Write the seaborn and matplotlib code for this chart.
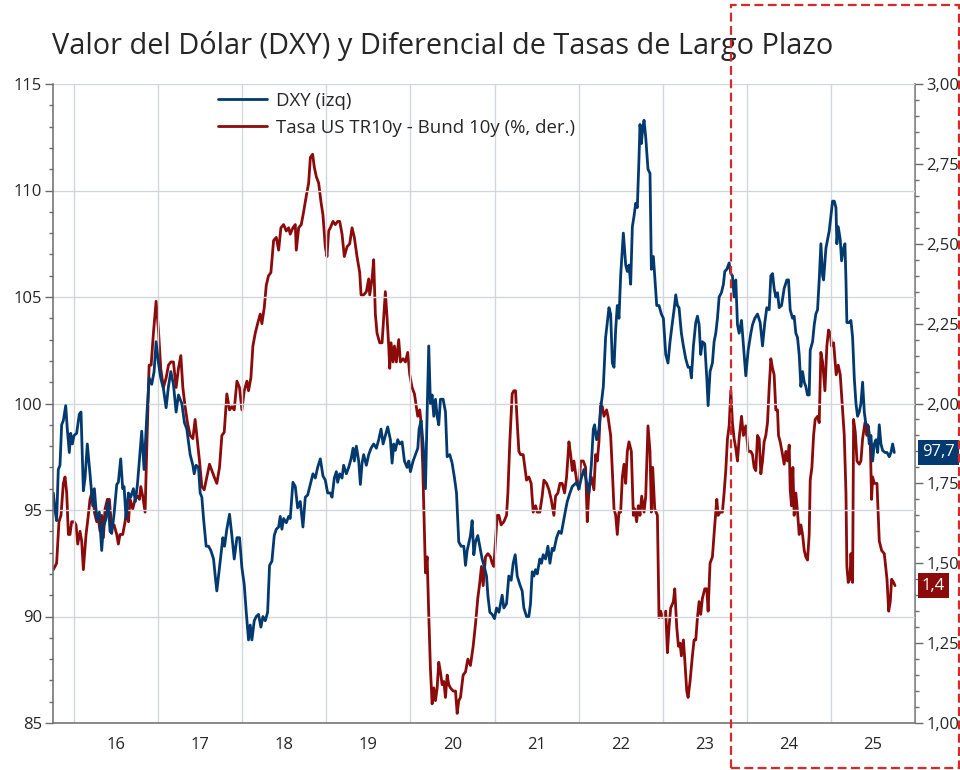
import matplotlib
matplotlib.use('Agg')
import matplotlib.pyplot as plt
import matplotlib.transforms as mtransforms
from matplotlib.patches import Rectangle
from matplotlib.ticker import FuncFormatter, MultipleLocator
import seaborn as sns
import pandas as pd

# DXY index (left axis), decimal year / value
dxy_year = [
    2015.754, 2015.774, 2015.793, 2015.813, 2015.833, 2015.853, 2015.873, 2015.901, 2015.920, 2015.944,
    2015.960, 2015.980, 2016.000, 2016.031, 2016.063, 2016.083, 2016.111, 2016.131, 2016.158, 2016.190,
    2016.222, 2016.242, 2016.270, 2016.301, 2016.329, 2016.349, 2016.381, 2016.408, 2016.428, 2016.448,
    2016.476, 2016.508, 2016.527, 2016.555, 2016.579, 2016.595, 2016.619, 2016.647, 2016.674, 2016.706,
    2016.730, 2016.754, 2016.785, 2016.805, 2016.833, 2016.865, 2016.893, 2016.924, 2016.952, 2016.976,
    2017.004, 2017.031, 2017.063, 2017.095, 2017.123, 2017.151, 2017.182, 2017.214, 2017.242, 2017.282,
    2017.313, 2017.341,
    2017.381, 2017.413, 2017.429, 2017.452, 2017.480, 2017.500, 2017.520, 2017.540, 2017.571, 2017.599,
    2017.627, 2017.659, 2017.679, 2017.698, 2017.718, 2017.746, 2017.770, 2017.790, 2017.817, 2017.849,
    2017.877, 2017.905, 2017.937, 2017.968, 2017.996, 2018.024, 2018.048, 2018.075, 2018.095, 2018.115,
    2018.143, 2018.167, 2018.194, 2018.222, 2018.246, 2018.274, 2018.302, 2018.325, 2018.353, 2018.381,
    2018.405, 2018.433, 2018.452, 2018.472, 2018.492, 2018.524, 2018.552, 2018.571, 2018.603, 2018.631,
    2018.659, 2018.690, 2018.722, 2018.750, 2018.778, 2018.810, 2018.841, 2018.869, 2018.897, 2018.929,
    2018.960, 2018.988, 2019.016,
    2019.048, 2019.068, 2019.095, 2019.119, 2019.135, 2019.159, 2019.187, 2019.206, 2019.238, 2019.266,
    2019.294, 2019.318, 2019.333, 2019.357, 2019.385, 2019.405, 2019.425, 2019.444, 2019.476, 2019.504,
    2019.532, 2019.563, 2019.595, 2019.623, 2019.651, 2019.675, 2019.702, 2019.730, 2019.762, 2019.782,
    2019.802, 2019.821, 2019.849, 2019.873, 2019.901, 2019.929, 2019.960, 2019.980, 2020.000, 2020.032,
    2020.060, 2020.088, 2020.103, 2020.127, 2020.151, 2020.179, 2020.199, 2020.218, 2020.238, 2020.258,
    2020.278, 2020.298, 2020.318, 2020.337, 2020.357, 2020.389, 2020.417, 2020.437, 2020.468, 2020.496,
    2020.524, 2020.548, 2020.575, 2020.603, 2020.635, 2020.655, 2020.675,
    2020.714, 2020.734, 2020.754, 2020.774, 2020.801, 2020.825, 2020.853, 2020.881, 2020.905, 2020.921,
    2020.944, 2020.972, 2021.000, 2021.024, 2021.052, 2021.071, 2021.091, 2021.111, 2021.143, 2021.170,
    2021.198, 2021.222, 2021.246, 2021.270, 2021.301, 2021.329, 2021.349, 2021.381, 2021.408, 2021.428,
    2021.448, 2021.468, 2021.488, 2021.508, 2021.539, 2021.559, 2021.579, 2021.607, 2021.635, 2021.659,
    2021.686, 2021.706, 2021.738, 2021.766, 2021.794, 2021.817, 2021.845, 2021.865, 2021.897, 2021.924,
    2021.952, 2021.976, 2022.004, 2022.032, 2022.063, 2022.095, 2022.123, 2022.151, 2022.175, 2022.190,
    2022.214, 2022.242, 2022.270, 2022.294, 2022.321, 2022.341, 2022.361,
    2022.381, 2022.401, 2022.421, 2022.441, 2022.460, 2022.480, 2022.500, 2022.532, 2022.560, 2022.579,
    2022.599, 2022.619, 2022.639, 2022.659, 2022.679, 2022.698, 2022.718, 2022.730, 2022.746, 2022.762,
    2022.778, 2022.798, 2022.825, 2022.849, 2022.865, 2022.889, 2022.905, 2022.929, 2022.956, 2022.984,
    2023.008, 2023.036, 2023.063, 2023.087, 2023.115, 2023.135, 2023.155, 2023.175, 2023.194, 2023.222,
    2023.246, 2023.274, 2023.302, 2023.325, 2023.341, 2023.365, 2023.393, 2023.413, 2023.433, 2023.452,
    2023.472, 2023.500, 2023.524, 2023.540, 2023.563, 2023.591, 2023.611, 2023.631, 2023.651, 2023.671,
    2023.698, 2023.722, 2023.738, 2023.762, 2023.790, 2023.810, 2023.829, 2023.849, 2023.869, 2023.889,
    2023.909, 2023.937, 2023.960, 2023.988, 2024.016,
    2024.048, 2024.068, 2024.095, 2024.127, 2024.159, 2024.187, 2024.214, 2024.238, 2024.266, 2024.286,
    2024.306, 2024.325, 2024.345, 2024.365, 2024.385, 2024.413, 2024.444, 2024.476, 2024.496, 2024.516,
    2024.544, 2024.563, 2024.583, 2024.603, 2024.623, 2024.643, 2024.663, 2024.683, 2024.702, 2024.722,
    2024.742, 2024.754, 2024.782, 2024.802, 2024.821, 2024.841, 2024.861, 2024.881, 2024.901, 2024.913,
    2024.941, 2024.960, 2024.980, 2025.000, 2025.020, 2025.040, 2025.060, 2025.071, 2025.087, 2025.111,
    2025.127, 2025.151, 2025.167, 2025.179, 2025.190, 2025.218, 2025.238, 2025.258, 2025.278, 2025.298,
    2025.317, 2025.337, 2025.357, 2025.377, 2025.397, 2025.417, 2025.437, 2025.456, 2025.476, 2025.496,
    2025.516, 2025.536, 2025.556, 2025.575, 2025.595, 2025.615, 2025.643, 2025.667, 2025.694, 2025.714,
    2025.734, 2025.754,
]
dxy_value = [
    95.8, 95.0, 94.5, 96.9, 97.1, 99.0, 99.2, 99.9, 98.8, 97.7,
    98.6, 98.1, 98.5, 98.6, 99.5, 99.6, 95.9, 96.5, 98.1, 96.7,
    95.2, 96.0, 94.6, 94.9, 93.1, 94.2, 94.6, 95.4, 94.0, 93.9,
    94.8, 96.2, 96.3, 97.4, 96.0, 96.1, 94.6, 95.8, 95.6, 96.0,
    95.4, 96.2, 97.7, 98.7, 96.9, 99.4, 101.2, 100.9, 101.5, 102.9,
    101.9, 101.2, 100.7, 99.8, 100.8, 101.5, 100.9, 99.6, 100.4, 100.0,
    99.1, 98.8,
    97.6, 97.1, 96.7, 97.1, 97.0, 95.8, 95.6, 94.6, 93.3, 93.3,
    93.1, 92.7, 91.9, 91.2, 91.9, 92.9, 93.7, 93.3, 94.1, 94.8,
    93.8, 92.7, 93.7, 93.7, 92.3, 91.5, 90.2, 88.9, 89.6, 88.9,
    89.8, 90.0, 90.1, 89.5, 90.0, 89.8, 90.2, 92.4, 92.6, 93.8,
    94.1, 94.2, 94.7, 94.1, 94.6, 94.4, 94.7, 94.6, 96.3, 96.1,
    95.1, 95.4, 94.2, 95.6, 95.7, 96.2, 96.7, 96.5, 97.0, 97.4,
    96.6, 96.4, 95.8,
    95.8, 95.6, 96.5, 96.8, 96.3, 96.7, 96.5, 97.1, 96.7, 97.0,
    97.4, 97.9, 97.3, 98.0, 97.3, 96.2, 97.2, 97.6, 97.1, 97.6,
    97.9, 98.1, 97.9, 98.3, 98.8, 98.1, 98.5, 98.9, 98.3, 97.2,
    98.1, 97.8, 98.3, 98.1, 98.2, 97.3, 97.0, 97.3, 96.8, 97.3,
    97.6, 97.9, 98.8, 99.2, 98.1, 96.0, 99.6, 102.7, 100.0, 100.4,
    99.4, 100.2, 99.4, 99.0, 100.2, 100.2, 99.6, 97.5, 97.6, 97.2,
    96.5, 95.8, 93.5, 93.3, 93.3, 92.4, 93.1,
    93.8, 94.5, 92.9, 93.5, 93.8, 93.3, 92.7, 92.3, 91.9, 91.0,
    90.2, 90.1, 89.9, 90.4, 90.2, 90.6, 91.0, 90.4, 90.6, 91.9,
    91.7, 92.5, 92.9, 91.9, 91.5, 91.2, 90.4, 90.0, 90.0, 90.6,
    92.1, 91.9, 92.2, 92.0, 92.7, 92.5, 92.9, 92.7, 93.3, 92.5,
    93.2, 93.1, 93.7, 94.0, 93.9, 94.4, 95.0, 95.4, 95.8, 96.1,
    96.2, 96.3, 96.0, 96.5, 96.9, 96.3, 95.8, 97.1, 98.8, 99.0,
    98.3, 98.8, 100.0, 100.8, 103.1, 103.8, 104.5,
    104.2, 101.9, 101.7, 103.5, 104.6, 104.0, 106.0, 108.0, 106.5, 106.2,
    106.5, 105.6, 108.3, 108.8, 109.4, 109.2, 111.5, 113.1, 112.2, 112.9,
    113.3, 112.5, 111.0, 110.8, 106.3, 106.9, 106.0, 104.6, 104.6, 104.2,
    104.0, 102.3, 101.9, 102.9, 103.8, 104.4, 105.1, 104.6, 104.5, 103.3,
    102.7, 102.1, 101.7, 101.7, 101.2, 102.7, 103.8, 104.1, 103.7, 102.3,
    102.9, 102.8, 101.2, 99.9, 101.5, 101.9, 102.9, 103.3, 104.0, 105.0,
    105.2, 105.6, 106.2, 106.3, 106.6, 106.1, 106.0, 105.0, 105.8, 103.7,
    103.3, 103.9, 102.7, 101.3, 102.5,
    103.3, 103.7, 104.0, 104.2, 103.8, 102.7, 103.8, 104.5, 104.4, 106.0,
    106.1, 105.4, 105.0, 105.2, 104.5, 104.6, 105.4, 105.8, 105.8, 104.4,
    104.0, 104.1, 103.3, 103.1, 102.3, 100.8, 101.5, 101.0, 100.8, 100.4,
    100.4, 102.5, 102.9, 103.7, 104.2, 104.4, 105.8, 107.5, 106.0, 105.8,
    107.3, 107.7, 108.1, 108.8, 109.5, 109.5, 109.2, 107.5, 108.3, 107.7,
    106.7, 107.3, 107.5, 105.8, 103.8, 103.8, 103.9, 103.1, 101.2, 100.0,
    99.4, 99.6, 100.0, 101.0, 99.6, 99.0, 99.0, 98.1, 98.5, 97.3,
    98.1, 98.3, 97.7, 99.0, 98.1, 97.8, 97.7, 97.7, 97.5, 97.7,
    98.1, 97.7,
]

# US Treasury 10y minus Bund 10y spread, % (right axis)
spread_year = [
    2015.754, 2015.774, 2015.793, 2015.821, 2015.845, 2015.873, 2015.893, 2015.913, 2015.933, 2015.952,
    2015.972, 2016.000, 2016.024, 2016.044, 2016.071, 2016.091, 2016.111, 2016.143, 2016.170, 2016.190,
    2016.222, 2016.242, 2016.270, 2016.290, 2016.309, 2016.329, 2016.349, 2016.369, 2016.397, 2016.420,
    2016.448, 2016.476, 2016.508, 2016.527, 2016.547, 2016.579, 2016.607, 2016.627, 2016.647, 2016.667,
    2016.698, 2016.726, 2016.754, 2016.778, 2016.794, 2016.817, 2016.845, 2016.865, 2016.893, 2016.917,
    2016.944, 2016.976, 2017.004, 2017.031, 2017.063, 2017.095, 2017.123, 2017.151, 2017.182, 2017.214,
    2017.242, 2017.270, 2017.294, 2017.321, 2017.349,
    2017.381, 2017.413, 2017.440, 2017.468, 2017.492, 2017.520, 2017.548, 2017.579, 2017.611, 2017.639,
    2017.667, 2017.698, 2017.730, 2017.758, 2017.786, 2017.817, 2017.849, 2017.877, 2017.905, 2017.937,
    2017.968, 2017.996, 2018.024, 2018.056, 2018.075, 2018.103, 2018.127, 2018.155, 2018.183, 2018.214,
    2018.234, 2018.262, 2018.286, 2018.313, 2018.341, 2018.373, 2018.405, 2018.433, 2018.460, 2018.492,
    2018.524, 2018.552, 2018.571, 2018.603, 2018.631, 2018.643, 2018.671, 2018.702, 2018.730, 2018.762,
    2018.790, 2018.810, 2018.837, 2018.857, 2018.881, 2018.909, 2018.937, 2018.960, 2018.988, 2019.008,
    2019.028,
    2019.048, 2019.079, 2019.107, 2019.135, 2019.159, 2019.187, 2019.214, 2019.246, 2019.278, 2019.306,
    2019.333, 2019.365, 2019.397, 2019.413, 2019.444, 2019.476, 2019.504, 2019.516, 2019.544, 2019.563,
    2019.583, 2019.603, 2019.635, 2019.663, 2019.683, 2019.702, 2019.722, 2019.742, 2019.754, 2019.770,
    2019.794, 2019.810, 2019.833, 2019.861, 2019.881, 2019.913, 2019.941, 2019.968, 2019.992, 2020.020,
    2020.048, 2020.071, 2020.087, 2020.111, 2020.127, 2020.147, 2020.167, 2020.179, 2020.199, 2020.218,
    2020.238, 2020.258, 2020.278, 2020.298, 2020.318, 2020.337, 2020.357, 2020.377, 2020.397, 2020.417,
    2020.437, 2020.456, 2020.476, 2020.508, 2020.536, 2020.556, 2020.575, 2020.595, 2020.627, 2020.655,
    2020.683,
    2020.714, 2020.746, 2020.774, 2020.801, 2020.825, 2020.845, 2020.865, 2020.893, 2020.921, 2020.952,
    2020.972, 2020.992, 2021.012, 2021.032, 2021.052, 2021.079, 2021.111, 2021.143, 2021.159, 2021.182,
    2021.210, 2021.230, 2021.250, 2021.270, 2021.290, 2021.310, 2021.341, 2021.361, 2021.381, 2021.408,
    2021.436, 2021.460, 2021.488, 2021.508, 2021.539, 2021.567, 2021.587, 2021.619, 2021.647, 2021.674,
    2021.706, 2021.726, 2021.754, 2021.778, 2021.805, 2021.833, 2021.857, 2021.885, 2021.905, 2021.925,
    2021.944, 2021.976, 2022.004, 2022.024, 2022.056, 2022.083, 2022.103, 2022.123, 2022.151, 2022.182,
    2022.202, 2022.222, 2022.242, 2022.262, 2022.282, 2022.302, 2022.333, 2022.349,
    2022.381, 2022.401, 2022.421, 2022.441, 2022.460, 2022.480, 2022.500, 2022.520, 2022.540, 2022.560,
    2022.579, 2022.599, 2022.627, 2022.651, 2022.667, 2022.690, 2022.710, 2022.730, 2022.750, 2022.778,
    2022.798, 2022.825, 2022.849, 2022.865, 2022.881, 2022.905, 2022.937, 2022.956, 2022.976, 2022.996,
    2023.016, 2023.036, 2023.056, 2023.075, 2023.095, 2023.127, 2023.143, 2023.167, 2023.187, 2023.206,
    2023.222, 2023.246, 2023.262, 2023.286, 2023.302, 2023.325, 2023.353, 2023.373, 2023.393, 2023.413,
    2023.433, 2023.452, 2023.472, 2023.500, 2023.524, 2023.540, 2023.563, 2023.591, 2023.619, 2023.643,
    2023.659, 2023.683, 2023.710, 2023.730, 2023.750, 2023.770, 2023.790, 2023.810, 2023.829, 2023.849,
    2023.869, 2023.889, 2023.909, 2023.937, 2023.960, 2023.988, 2024.016,
    2024.048, 2024.068, 2024.087, 2024.107, 2024.127, 2024.147, 2024.167, 2024.187, 2024.206, 2024.226,
    2024.246, 2024.266, 2024.286, 2024.306, 2024.325, 2024.345, 2024.365, 2024.377, 2024.397, 2024.425,
    2024.444, 2024.464, 2024.484, 2024.504, 2024.516, 2024.532, 2024.548, 2024.563, 2024.583, 2024.603,
    2024.623, 2024.643, 2024.663, 2024.683, 2024.702, 2024.722, 2024.742, 2024.754, 2024.774, 2024.794,
    2024.813, 2024.841, 2024.861, 2024.881, 2024.901, 2024.929, 2024.952, 2024.972, 2024.992, 2025.008,
    2025.032, 2025.048, 2025.063, 2025.087, 2025.111, 2025.139, 2025.159, 2025.179, 2025.190, 2025.206,
    2025.226, 2025.238, 2025.258, 2025.270, 2025.290, 2025.310, 2025.337, 2025.357, 2025.377, 2025.405,
    2025.429, 2025.444, 2025.468, 2025.484, 2025.496, 2025.516, 2025.548, 2025.575, 2025.603, 2025.635,
    2025.667, 2025.687, 2025.706, 2025.722, 2025.746, 2025.762,
]
spread_value = [
    1.48, 1.49, 1.50, 1.63, 1.65, 1.75, 1.77, 1.72, 1.59, 1.59,
    1.63, 1.63, 1.62, 1.56, 1.60, 1.57, 1.48, 1.59, 1.65, 1.70,
    1.73, 1.66, 1.63, 1.64, 1.60, 1.65, 1.58, 1.67, 1.70, 1.70,
    1.61, 1.62, 1.59, 1.56, 1.59, 1.59, 1.63, 1.67, 1.63, 1.70,
    1.67, 1.70, 1.71, 1.70, 1.74, 1.71, 1.66, 1.86, 2.12, 2.12,
    2.22, 2.32, 2.23, 2.11, 2.05, 2.08, 2.12, 2.13, 2.13, 2.05,
    2.11, 2.15, 2.05, 1.99, 1.94,
    1.90, 1.89, 1.95, 1.88, 1.82, 1.74, 1.73, 1.77, 1.81, 1.79,
    1.77, 1.75, 1.80, 1.90, 1.91, 2.03, 1.98, 1.99, 1.98, 2.07,
    2.05, 1.98, 2.04, 2.07, 2.04, 2.08, 2.18, 2.22, 2.25, 2.28,
    2.25, 2.30, 2.37, 2.40, 2.41, 2.51, 2.52, 2.48, 2.55, 2.56,
    2.54, 2.55, 2.53, 2.55, 2.56, 2.48, 2.55, 2.56, 2.60, 2.65,
    2.69, 2.77, 2.78, 2.74, 2.71, 2.69, 2.63, 2.59, 2.49, 2.46,
    2.54,
    2.55, 2.57, 2.56, 2.57, 2.57, 2.53, 2.46, 2.49, 2.50, 2.55,
    2.52, 2.46, 2.41, 2.34, 2.34, 2.35, 2.39, 2.34, 2.39, 2.45,
    2.28, 2.22, 2.19, 2.19, 2.27, 2.35, 2.27, 2.18, 2.11, 2.19,
    2.13, 2.18, 2.13, 2.20, 2.13, 2.14, 2.13, 2.16, 2.09, 2.05,
    2.03, 1.99, 1.96, 1.98, 1.94, 1.80, 1.59, 1.47, 1.52, 1.34,
    1.17, 1.06, 1.11, 1.07, 1.11, 1.19, 1.16, 1.12, 1.13, 1.08,
    1.15, 1.12, 1.11, 1.10, 1.10, 1.03, 1.07, 1.08, 1.15, 1.16,
    1.20,
    1.18, 1.24, 1.31, 1.39, 1.44, 1.49, 1.43, 1.52, 1.53, 1.52,
    1.50, 1.49, 1.57, 1.65, 1.65, 1.62, 1.63, 1.65, 1.72, 1.88,
    2.03, 2.04, 2.04, 1.94, 1.85, 1.84, 1.84, 1.80, 1.76, 1.77,
    1.75, 1.66, 1.68, 1.66, 1.66, 1.71, 1.76, 1.75, 1.73, 1.70,
    1.65, 1.71, 1.72, 1.75, 1.75, 1.72, 1.77, 1.88, 1.84, 1.79,
    1.82, 1.76, 1.73, 1.82, 1.82, 1.80, 1.63, 1.73, 1.77, 1.73,
    1.84, 1.82, 1.88, 2.00, 1.99, 1.96, 1.98, 1.96,
    1.90, 1.79, 1.67, 1.65, 1.59, 1.66, 1.66, 1.77, 1.81, 1.75,
    1.85, 1.88, 1.85, 1.65, 1.67, 1.63, 1.68, 1.65, 1.71, 1.66,
    1.71, 1.93, 1.85, 1.66, 1.80, 1.67, 1.65, 1.33, 1.35, 1.33,
    1.34, 1.35, 1.22, 1.30, 1.36, 1.38, 1.42, 1.30, 1.24, 1.25,
    1.21, 1.26, 1.20, 1.10, 1.08, 1.13, 1.21, 1.26, 1.26, 1.33,
    1.38, 1.34, 1.39, 1.42, 1.42, 1.35, 1.50, 1.52, 1.62, 1.70,
    1.65, 1.66, 1.66, 1.72, 1.79, 1.89, 1.93, 2.04, 1.94, 1.89,
    1.86, 1.82, 1.89, 1.96, 1.90, 1.93, 1.85,
    1.85, 1.84, 1.80, 1.79, 1.90, 1.89, 1.78, 1.82, 1.88, 1.90,
    1.94, 2.05, 2.14, 2.11, 2.09, 1.98, 1.98, 1.90, 1.88, 1.84,
    1.81, 1.85, 1.82, 1.87, 1.73, 1.68, 1.80, 1.65, 1.72, 1.66,
    1.59, 1.62, 1.59, 1.54, 1.52, 1.51, 1.59, 1.76, 1.80, 1.90,
    1.95, 1.96, 1.94, 2.16, 2.13, 2.04, 2.18, 2.23, 2.22, 2.18,
    2.19, 2.14, 2.09, 2.12, 2.09, 1.98, 1.90, 1.72, 1.49, 1.44,
    1.45, 1.53, 1.44, 1.95, 1.91, 1.82, 1.81, 1.82, 1.89, 1.94,
    1.90, 1.93, 1.88, 1.70, 1.77, 1.75, 1.75, 1.57, 1.54, 1.53,
    1.45, 1.35, 1.38, 1.45, 1.44, 1.43,
]

year_labels = ['16', '17', '18', '19', '20', '21', '22', '23', '24', '25']
title = 'Valor del Dólar (DXY) y Diferencial de Tasas de Largo Plazo'
dxy_label = 'DXY (izq)'
spread_label = 'Tasa US TR10y - Bund 10y (%, der.)'
highlight_start = 2023.81  # start of the dashed highlight box

BLUE = '#023A6F'
RED = '#8B0A0A'
GRID = '#D3D7DB'
AXIS = '#6B6B6B'
TEXT = '#262626'

sns.set_theme(style='white')
plt.rcParams['font.family'] = ['Open Sans', 'DejaVu Sans']

dxy = pd.DataFrame({'year': dxy_year, 'value': dxy_value})
spread = pd.DataFrame({'year': spread_year, 'value': spread_value})

fig = plt.figure(figsize=(9.6, 7.7), dpi=100)
ax = fig.add_axes([53 / 960, 47 / 770, 862 / 960, 639 / 770])
ax2 = ax.twinx()

sns.lineplot(data=dxy, x='year', y='value', ax=ax, color=BLUE, lw=2.0,
             label=dxy_label, legend=False)
sns.lineplot(data=spread, x='year', y='value', ax=ax2, color=RED, lw=2.0,
             label=spread_label, legend=False)
ax.set_zorder(ax2.get_zorder() + 1)
ax.patch.set_visible(False)

ax.set_xlim(2015.75, 2026.0)
ax.set_ylim(85, 115)
ax2.set_ylim(1.0, 3.0)
ax.set_xlabel('')
ax.set_ylabel('')
ax2.set_ylabel('')

# x axis: year boundaries as major ticks / grid, labels at mid-year
ax.xaxis.set_major_locator(MultipleLocator(1))
ax.xaxis.set_major_formatter(FuncFormatter(lambda v, p: ''))
ax.xaxis.set_minor_locator(MultipleLocator(0.25))
lab_map = {2016.5 + i: s for i, s in enumerate(year_labels)}
ax.xaxis.set_minor_formatter(
    FuncFormatter(lambda v, p: lab_map.get(round(v * 4) / 4, '')))

ax.yaxis.set_major_locator(MultipleLocator(5))
ax.yaxis.set_minor_locator(MultipleLocator(1))
ax2.yaxis.set_major_locator(MultipleLocator(0.25))
ax2.yaxis.set_minor_locator(MultipleLocator(0.05))
ax2.yaxis.set_major_formatter(FuncFormatter(lambda v, p: f'{v:.2f}'.replace('.', ',')))

for a in (ax, ax2):
    a.tick_params(which='major', direction='out', length=6, width=1, color=AXIS,
                  labelsize=12, labelcolor=TEXT)
    a.tick_params(which='minor', direction='out', length=3, width=1, color=AXIS,
                  labelsize=12, labelcolor=TEXT)
    for side in ('top', 'right', 'left', 'bottom'):
        a.spines[side].set_visible(False)
ax.tick_params(axis='y', which='both', right=False, pad=2)
ax2.tick_params(axis='y', which='both', left=False, right=True, pad=2)
ax2.tick_params(axis='x', which='both', bottom=False, labelbottom=False)
ax.tick_params(axis='x', which='minor', pad=7)

ax.spines['left'].set_visible(True)
ax.spines['bottom'].set_visible(True)
ax2.spines['right'].set_visible(True)
for s in (ax.spines['left'], ax.spines['bottom'], ax2.spines['right']):
    s.set_color(AXIS)
    s.set_linewidth(1.1)

ax.grid(True, which='major', axis='both', color=GRID, lw=1.0)
ax.set_axisbelow(True)

leg = ax.legend(handles=ax.get_lines() + ax2.get_lines(),
                labels=[dxy_label, spread_label],
                loc='upper left', bbox_to_anchor=(165 / 862, 1 - 8 / 639),
                frameon=False, fontsize=13.4, handlelength=2.65,
                handletextpad=0.45, labelspacing=0.48, borderpad=0,
                borderaxespad=0)
for t in leg.get_texts():
    t.set_color(TEXT)

fig.text(52 / 960, 1 - 46 / 770, title, fontsize=20.8, color=TEXT,
         ha='left', va='center')

# value boxes at the end of each series
ax.annotate(f'{dxy_value[-1]:.1f}'.replace('.', ','),
            xy=(1, dxy_value[-1]), xycoords=('axes fraction', 'data'),
            xytext=(5, 0), textcoords='offset points', ha='left', va='center',
            color='white', fontsize=12, annotation_clip=False,
            bbox=dict(boxstyle='square,pad=0.25', fc=BLUE, ec='none'))
ax2.annotate(f'{spread_value[-1]:.1f}'.replace('.', ','),
             xy=(1, spread_value[-1]), xycoords=('axes fraction', 'data'),
             xytext=(5, 0), textcoords='offset points', ha='left', va='center',
             color='white', fontsize=12, annotation_clip=False,
             bbox=dict(boxstyle='square,pad=0.25', fc=RED, ec='none'))

# dashed highlight box over the latest period
trans = mtransforms.blended_transform_factory(ax.transData, fig.transFigure)
box = Rectangle((highlight_start, 2 / 770), 2026.52 - highlight_start, 763 / 770,
                transform=trans, fill=False, ec='#D42A2A', lw=1.6,
                ls=(0, (4, 2)), clip_on=False, zorder=10)
fig.add_artist(box)

fig.savefig('out.png', dpi=100)
plt.close(fig)
